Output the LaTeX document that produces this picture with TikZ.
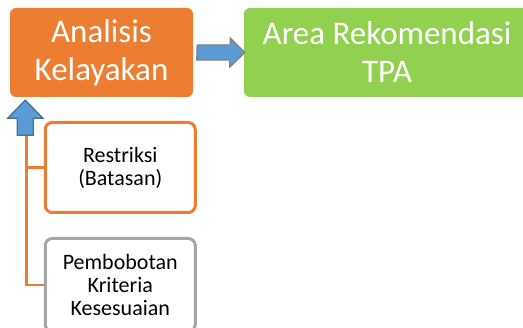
\documentclass[tikz,border=0pt]{standalone}
\usepackage{fontspec}
\setmainfont{Carlito}
\usetikzlibrary{calc}
\definecolor{orangeF}{HTML}{ED7D31}
\definecolor{greenF}{HTML}{92D050}
\definecolor{blueF}{HTML}{5B9BD5}
\definecolor{blueD}{HTML}{41719C}
\definecolor{grayB}{HTML}{A5A5A5}
\definecolor{grayA}{HTML}{808080}
\tikzset{
  bigbox/.style={rounded corners=6pt, inner sep=0pt, align=center, text=white,
    font=\fontsize{33}{38}\selectfont, minimum height=89pt},
  smallbox/.style={rounded corners=7pt, inner sep=0pt, align=center, text=black,
    fill=white, line width=3pt, font=\fontsize{22}{23}\selectfont,
    minimum width=150pt},
  conn/.style={draw=orangeF, line width=2.8pt},
  rarrow/.style={fill=blueF, draw=grayA, line width=1.3pt, line join=miter},
  uarrow/.style={fill=blueF, draw=blueD, line width=1.3pt, line join=miter}
}
\begin{document}
\begin{tikzpicture}[x=1pt, y=-1pt]
\useasboundingbox (0,0) rectangle (523,328);
\clip (0,0) rectangle (523,328);
\node[bigbox, fill=orangeF, minimum width=183pt] (ana) at (101.5,52.5) {Analisis\\Kelayakan};
\node[bigbox, fill=greenF, minimum width=286pt] (area) at (387,52.5) {Area Rekomendasi\\TPA};
\node[smallbox, draw=orangeF, minimum height=90pt] (res) at (120.25,167.5) {Restriksi\\(Batasan)};
\node[smallbox, draw=grayB, minimum height=93pt] (pem) at (120.25,285) {Pembobotan\\Kriteria\\Kesesuaian};
% trunk connector
\coordinate (tr) at ($(ana.south west)+(17,28)$);
\draw[conn] (tr) |- (pem.west);
\draw[conn] (res.west) -- (res.west -| tr);
% up block arrow
\coordinate (ut) at ($(ana.south west)+(15.5,3)$);
\draw[uarrow] (ut) -- ++(17.5,18) -- ++(-9.5,0) -- ++(0,17) -- ++(-16,0) -- ++(0,-17) -- ++(-9.5,0) -- cycle;
% right block arrow
\coordinate (rt) at ($(ana.east)+(4,0)$);
\coordinate (rh) at ($(area.west)+(1,0)$);
\draw[rarrow] ($(rt)+(0,-7.5)$) -- ++(33,0) -- ++(0,-7) -- (rh) -- ++(-15,14.5) -- ++(0,-7) -- ++(-33,0) -- cycle;
\end{tikzpicture}
\end{document}
